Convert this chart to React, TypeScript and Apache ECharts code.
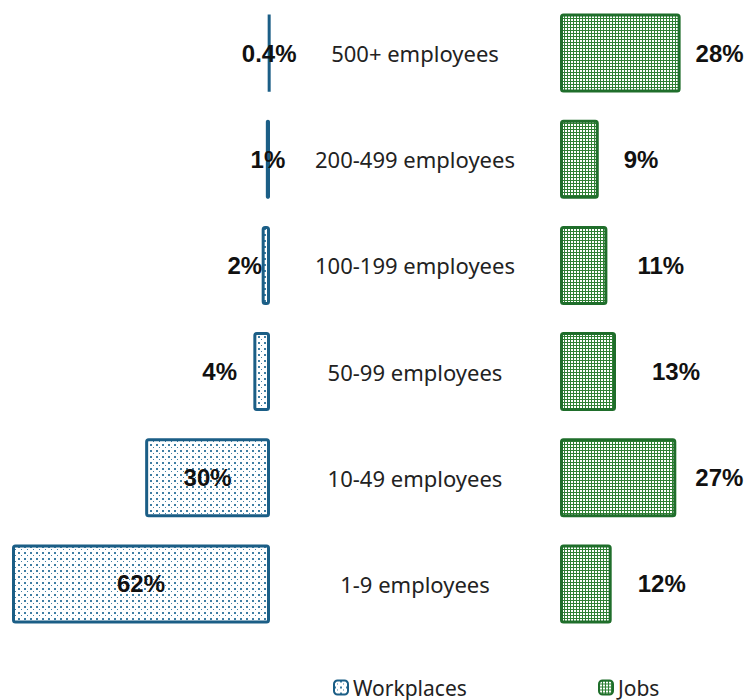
import React, { useEffect, useRef } from "react";
import * as echarts from "echarts";

const categories = [
  "500+ employees",
  "200-499 employees",
  "100-199 employees",
  "50-99 employees",
  "10-49 employees",
  "1-9 employees",
];
const workplaces = [0.4, 1, 2, 4, 30, 62];
const jobs = [28, 9, 11, 13, 27, 12];
const workplaceLabelShift = [0, 0, -21, -42, 0, 0];
const jobsLabelGap = [15, 25, 30, 36, 19, 26];

const BLUE = "#1b5e86";
const GREEN = "#1f6e2b";

function makeBluePattern() {
  const c = document.createElement("canvas");
  c.width = 6;
  c.height = 6;
  const g = c.getContext("2d")!;
  g.fillStyle = "#ffffff";
  g.fillRect(0, 0, 6, 6);
  g.fillStyle = "#3f7ea3";
  g.fillRect(0, 0, 2, 2);
  g.fillRect(3, 3, 1, 1);
  return c;
}
function makeGreenPattern() {
  const c = document.createElement("canvas");
  c.width = 3;
  c.height = 3;
  const g = c.getContext("2d")!;
  g.fillStyle = "#2f8034";
  g.fillRect(0, 0, 3, 3);
  g.fillStyle = "#ffffff";
  g.fillRect(1, 1, 2, 2);
  return c;
}

export default function App() {
  const ref = useRef<HTMLDivElement>(null);
  useEffect(() => {
    document.body.style.margin = "0";
    if (!ref.current) return;
    const chart = echarts.init(ref.current, null, { renderer: "svg" });
    const bluePat = { image: makeBluePattern(), repeat: "repeat" };
    const greenPat = { image: makeGreenPattern(), repeat: "repeat" };
    const numFont = {
      fontFamily: "Liberation Sans",
      fontWeight: "bold" as const,
      fontSize: 24,
      color: "#111",
    };
    const legendText = { fontFamily: "Noto Sans", fontSize: 21, lineHeight: 20, color: "#222" };
    chart.setOption({
      animation: false,
      backgroundColor: "#ffffff",
      grid: [
        { left: 12, width: 258, top: -1, height: 638 },
        { left: 560, width: 168, top: -1, height: 638 },
      ],
      xAxis: [
        { type: "value", gridIndex: 0, min: 0, max: 62, inverse: true, show: false },
        { type: "value", gridIndex: 1, min: 0, max: 39, show: false },
      ],
      yAxis: [
        {
          type: "category",
          gridIndex: 0,
          data: categories,
          inverse: true,
          position: "right",
          axisLine: { show: false },
          axisTick: { show: false },
          axisLabel: {
            margin: 145,
            align: "center",
            fontFamily: "Noto Sans",
            fontSize: 22,
            color: "#222",
          },
        },
        {
          type: "category",
          gridIndex: 1,
          data: categories,
          inverse: true,
          show: false,
        },
      ],
      legend: [
        {
          data: ["Workplaces"],
          left: 333,
          top: 677,
          padding: 0,
          itemWidth: 14,
          itemHeight: 14,
          itemGap: 0,
          textStyle: legendText,
        },
        {
          data: ["Jobs"],
          left: 598,
          top: 677,
          padding: 0,
          itemWidth: 14,
          itemHeight: 14,
          itemGap: 0,
          textStyle: legendText,
        },
      ],
      series: [
        {
          name: "Workplaces",
          type: "bar",
          xAxisIndex: 0,
          yAxisIndex: 0,
          barWidth: 79,
          itemStyle: { color: bluePat, borderColor: BLUE, borderWidth: 3, borderRadius: 2 },
          data: workplaces.map((v, i) => ({
            value: v,
            label: { offset: [workplaceLabelShift[i], 0] },
          })),
          label: {
            show: true,
            position: "inside",
            formatter: "{c}%",
            ...numFont,
          },
        },
        {
          name: "Jobs",
          type: "bar",
          xAxisIndex: 1,
          yAxisIndex: 1,
          barWidth: 79,
          itemStyle: { color: greenPat, borderColor: GREEN, borderWidth: 3, borderRadius: 2 },
          data: jobs.map((v, i) => ({
            value: v,
            label: { distance: jobsLabelGap[i] },
          })),
          label: {
            show: true,
            position: "right",
            formatter: "{c}%",
            ...numFont,
          },
        },
      ],
    });
    return () => chart.dispose();
  }, []);
  return <div ref={ref} style={{ width: 746, height: 700 }} />;
}
